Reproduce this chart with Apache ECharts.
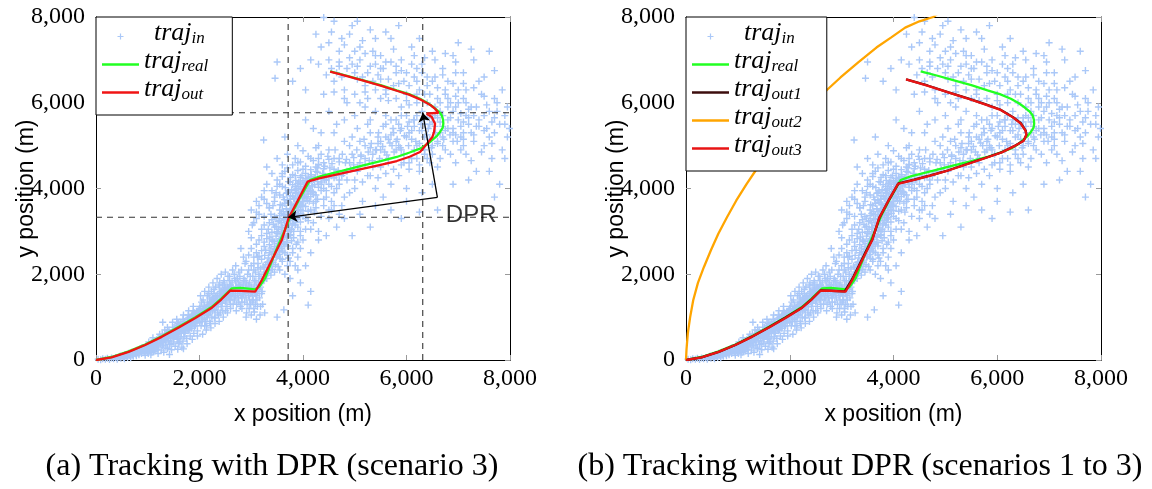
<!DOCTYPE html>
<html>
<head>
<meta charset="utf-8">
<script src="https://cdn.jsdelivr.net/npm/echarts@6/dist/echarts.min.js"></script>
<style>
  html, body { margin: 0; padding: 0; background: #fff; }
  #chart { width: 1152px; height: 489px; }
</style>
</head>
<body>
<div id="chart"></div>
<script>
// Axis range shared by both panels (metres)
const AXIS_MIN = 0;
const AXIS_MAX = 8000;
const AXIS_STEP = 2000;

const xName = 'x position (m)';
const yName = 'y position (m)';
const captions = ['(a) Tracking with DPR (scenario 3)', '(b) Tracking without DPR (scenarios 1 to 3)'];

// Noisy input positions, flat list of x,y pairs (m)
const trajInFlat = [
  // near the start
  40,20, 90,5, 130,30, 180,15, 220,40, 260,10, 300,45, 340,30, 380,60, 410,20, 450,70, 480,40, 520,90, 550,30,
  580,110, 610,60, 640,120, 670,50, 700,140, 720,90, 750,160, 780,100, 800,200, 830,120, 860,210, 880,150,
  900,250, 930,170, 950,110, 970,260, 990,200, 1010,150, 1030,290, 1050,230, 1080,180, 1100,320, 1120,260,
  1140,210, 1160,350,
  420,50, 470,95, 530,60, 560,130, 600,90, 630,160, 660,100, 690,180, 710,120, 740,200, 770,140, 790,230,
  820,170, 850,260, 870,190, 890,290, 920,220, 940,300, 960,240, 980,330, 1000,270, 1020,350, 1040,260,
  1070,400, 1090,290, 1110,430, 1130,310, 1150,380, 1170,470, 1190,400, 1210,300, 1230,520, 1270,440,
  // rising band up to 2000 m
  1020,420, 1060,120, 1090,360, 1110,200, 1150,450, 1180,250, 1200,150, 1220,400, 1250,520, 1260,230, 1290,330,
  1310,180, 1330,560, 1350,420, 1380,270, 1400,620, 1420,360, 1440,500, 1460,240, 1480,700, 1500,420, 1510,560,
  1530,320, 1550,760, 1570,480, 1590,620, 1600,380, 1620,820, 1640,540, 1660,700, 1680,440, 1700,900, 1710,620,
  1730,760, 1750,500, 1770,950, 1780,680, 1800,830, 1820,560, 1840,1020, 1850,740, 1870,900, 1890,620, 1900,1100,
  1920,800, 1940,960, 1960,680, 1980,1150, 2000,870, 1300,400, 1400,450, 1450,380, 1550,560, 1600,500, 1650,620,
  1700,540, 1750,780, 1800,700, 1850,820, 1900,780, 1950,900, 1150,300, 1250,380, 1350,300, 1500,650, 1620,420,
  1720,700, 1820,900, 1920,1000, 1480,880, 1380,760, 1560,950, 1690,1050, 1790,1150, 1880,1250, 1230,600,
  1330,700, 1100,520, 1660,300, 1760,380, 1860,480, 1960,560, 1580,250, 1420,130, 1290,880, 1690,260,
  1050,300, 1120,380, 1180,330, 1240,470, 1320,480, 1370,560, 1430,590, 1470,520, 1530,640, 1580,700, 1630,740,
  1670,820, 1720,840, 1780,900, 1830,950, 1870,1000, 1930,1060, 1980,1080, 1000,330, 1200,520, 1400,650,
  1600,850, 1800,1000, 1100,240, 1300,350, 1500,500, 1700,650, 1900,850,
  1280,600, 1300,500, 1340,460, 1360,620, 1390,520, 1410,700, 1430,560, 1460,640, 1490,560, 1510,760, 1540,600,
  1560,700, 1590,800, 1610,660, 1640,860, 1660,760, 1690,700, 1710,900, 1740,820, 1760,730, 1790,980, 1810,880,
  1840,800, 1860,1060, 1890,940, 1910,870, 1940,1120, 1960,1000, 1990,930,
  1520,600, 1570,540, 1620,680, 1680,760, 1720,620, 1770,860, 1820,780, 1860,920, 1910,980, 1950,1040, 1880,1150,
  1780,1050, 1680,950, 1580,850, 1480,760, 1380,650,
  // band from 2000 m to the first bend
  2010,1250, 2030,800, 2050,1100, 2070,1400, 2090,950, 2110,1200, 2130,700, 2150,1500, 2170,1050, 2190,1300,
  2210,850, 2230,1600, 2250,1150, 2270,1400, 2290,980, 2310,1700, 2330,1250, 2350,1500, 2370,1050, 2390,1800,
  2410,1350, 2430,1600, 2450,1150, 2470,1850, 2490,1450, 2510,1700, 2530,1250, 2550,1950, 2570,1550, 2590,1750,
  2600,1300, 2040,1350, 2080,1150, 2120,900, 2160,1250, 2200,1450, 2240,1000, 2280,1250, 2320,1500, 2360,1300,
  2400,1600, 2440,1400, 2480,1650, 2520,1450, 2560,1650, 2060,600, 2140,800, 2220,750, 2300,850, 2380,900,
  2460,1000, 2540,1100, 2100,1600, 2180,1700, 2260,1800, 2340,1900, 2420,2000, 2500,2050, 2020,1500, 2350,1100,
  2450,1750, 2250,1300, 2150,1000, 2050,900, 2580,1850, 2280,1550, 2200,1150, 2420,1250, 2520,1550, 2380,1700,
  2030,1120, 2090,1180, 2130,1230, 2190,1280, 2230,1330, 2290,1380, 2330,1410, 2390,1470, 2430,1520, 2490,1560,
  2530,1600, 2580,1640, 2000,1200, 2200,1350, 2400,1500, 2550,1600, 2100,1050, 2300,1150, 2500,1350,
  2010,1180, 2040,1050, 2060,980, 2090,1280, 2110,1110, 2140,1050, 2160,1350, 2190,1180, 2210,1100, 2240,1420,
  2260,1250, 2290,1180, 2310,1480, 2340,1330, 2360,1240, 2390,1560, 2410,1400, 2440,1320, 2460,1620, 2490,1500,
  2510,1380, 2540,1700, 2560,1480, 2590,1420,
  2000,1020, 2050,1160, 2100,1250, 2150,1150, 2200,1300, 2250,1450, 2300,1350, 2350,1420, 2400,1550, 2450,1480,
  2500,1600, 2550,1520, 2180,1550, 2280,1650, 2380,1750, 2480,1800, 2580,1950, 2100,800, 2200,900, 2300,1000,
  2400,1100, 2500,1150, 2600,1200,
  // flat stretch
  2610,1500, 2630,1800, 2650,1300, 2670,2000, 2690,1600, 2710,1150, 2730,1900, 2750,1450, 2770,1750, 2790,1250,
  2810,2100, 2830,1550, 2850,1850, 2870,1350, 2890,1700, 2910,1100, 2930,2000, 2950,1500, 2970,1800, 2990,1300,
  3010,1650, 3030,1950, 3050,1200, 3070,1550, 3090,1850, 3110,1400, 3130,2150, 3150,1650, 3170,1050, 3190,1900,
  2620,1700, 2680,1400, 2740,1650, 2800,1500, 2860,1600, 2920,1650, 2980,1550, 3040,1400, 3100,1700, 3160,1450,
  2660,1650, 2720,1700, 2780,1600, 2840,1750, 2900,1450, 2960,1700, 3020,1500, 3080,1300, 3140,1800, 3200,1550,
  2640,2100, 2700,2200, 2760,2050, 2880,2250, 3000,2200, 3120,2400, 2900,1000, 3000,1050, 3100,950, 3060,1120,
  2820,1200, 2960,1200, 3180,1250, 2760,1350, 2860,1900, 3060,1750, 3220,1300, 3240,1850, 3260,1100, 2700,1850,
  2600,1550, 2580,1400,
  2610,1650, 2640,1550, 2670,1450, 2700,1700, 2730,1550, 2760,1800, 2790,1650, 2820,1450, 2850,1650, 2880,1550,
  2910,1800, 2940,1600, 2970,1400, 3000,1700, 3030,1600, 3060,1850, 3090,1500, 3120,1600, 3150,1950, 3180,1700,
  3210,1600, 3240,2000,
  2600,1750, 2650,1600, 2700,1500, 2750,1650, 2800,1750, 2850,1550, 2900,1650, 2950,1750, 3000,1600, 3050,1650,
  3100,1550, 3150,1750, 3200,1800, 2680,1900, 2780,1950, 2880,1850, 2980,1950, 3080,2050, 2720,1300, 2820,1350,
  2920,1300, 3020,1350, 3120,1250,
  // steep climb
  3300,1900, 3150,2000, 3450,2050, 3250,2150, 3550,2100, 3050,2250, 3380,2250, 3600,2300, 3200,2350, 3480,2400,
  3700,2450, 3100,2500, 3350,2500, 3550,2550, 3800,2600, 3250,2650, 3450,2650, 3650,2700, 3900,2750, 3150,2800,
  3400,2800, 3600,2850, 3750,2900, 3300,2950, 3500,2950, 3950,3000, 3700,3000, 3200,3050, 3450,3100, 3600,3100,
  3850,3150, 3050,3200, 3350,3200, 3550,3250, 3750,3250, 4050,3300, 3250,3350, 3450,3350, 3650,3400, 3900,3400,
  3100,3450, 3550,3500, 3750,3500, 4150,3500, 3350,3550, 3850,3600, 3650,3650, 3450,3700, 4000,3700, 3250,3750,
  3750,3750, 3900,3800, 3550,3850, 4250,3850, 3700,3900, 3400,3950, 3850,3950, 4050,4000, 3600,4050, 3950,4100,
  4300,4100, 3750,4150, 3500,4200, 4100,4250, 3850,4300, 4400,4300, 3650,4400, 4000,4450, 4250,4500, 3800,4550,
  3260,2050, 3340,2080, 3390,2180, 3310,2280, 3430,2330, 3500,2420, 3390,2460, 3540,2520, 3460,2580, 3580,2640,
  3510,2720, 3620,2760, 3560,2830, 3680,2880, 3600,2960, 3720,3030, 3660,3080, 3790,3150, 3700,3190, 3820,3260,
  3740,3310, 3860,3370, 3790,3430, 3910,3480, 3830,3540, 3950,3580, 3870,3640, 3990,3690, 3910,3760, 4030,3820,
  3960,3880, 4080,3930, 4000,3980, 4110,4060, 4040,4140, 4160,4190,
  2900,2300, 3000,2600, 2950,3000, 3100,3300, 3000,3500, 3200,3800, 3300,4100, 4300,2800, 4200,3200, 4400,3600,
  4500,3300, 4600,3900, 4700,3400, 4150,2500, 4050,2200, 3900,2100, 3750,1900, 3650,2000, 4400,4000, 4550,3700,
  3300,4500, 3500,4700, 3700,4800, 2800,2600, 3000,2850, 3150,3600, 4300,3000, 4450,2900, 3850,2200, 3700,2200,
  3630,1170, 4100,1280, 3500,1000, 3800,1500, 3950,1800, 4150,1600,
  3380,1980, 3180,2120, 3520,2180, 3280,2230, 3420,2280, 3600,2350, 3330,2380, 3150,2420, 3540,2460, 3650,2500,
  3420,2530, 3280,2560, 3590,2600, 3500,2640, 3700,2660, 3350,2690, 3620,2720, 3450,2760, 3780,2780, 3540,2800,
  3300,2830, 3680,2860, 3480,2890, 3760,2920, 3580,2940, 3400,2980, 3820,3000, 3640,3020, 3530,3050, 3740,3080,
  3900,3100, 3480,3120, 3650,3140, 3800,3180, 3580,3200, 3950,3220, 3700,3240, 3400,3270, 3880,3290, 3620,3300,
  3780,3330, 4000,3350, 3550,3370, 3700,3390, 3960,3420, 3840,3440, 3620,3460, 4100,3470, 3760,3490, 3950,3510,
  3680,3530, 3880,3560, 4050,3580, 3600,3600, 3780,3620, 3960,3640, 4200,3660, 3720,3680, 3880,3700, 4080,3720,
  3640,3740, 3820,3770, 4000,3790, 4150,3810, 3760,3830, 3940,3850, 4100,3870, 3680,3890, 3860,3910, 4180,3930,
  4020,3950, 3780,3970, 3920,3990, 4120,4010, 4300,4030, 3850,4050, 4060,4070, 4220,4090, 3900,4110, 4080,4130,
  3720,4160, 4000,4180, 4200,4210, 4350,4230, 3950,4260, 4150,4280, 3800,4320, 4050,4350, 4280,4380, 3900,4420,
  4150,4440, 4400,4460, 3700,4480, 4050,4520, 4300,4560, 3950,4620, 4200,4650, 4500,4680, 3850,4700, 4100,4750,
  4350,4800, 4000,4880, 4250,4950, 3600,4350, 3500,4050, 3450,3800, 3350,3550, 4350,3350, 4250,3550, 4400,3750,
  4150,3050, 4000,2800, 3950,2600, 3900,2400, 3750,2300, 2950,2100, 3050,2400, 3100,2700, 3200,2900, 3250,3150,
  3150,3400, 3300,3650, 4500,4100, 4600,4250, 4450,3950,
  3320,2020, 3410,2110, 3230,2190, 3470,2220, 3360,2310, 3560,2370, 3260,2440, 3440,2480, 3610,2540, 3380,2610,
  3530,2680, 3700,2740, 3420,2770, 3590,2810, 3820,2850, 3360,2870, 3630,2910, 3500,2990, 3780,3040, 3580,3090,
  3430,3160, 3690,3170, 3860,3210, 3520,3230, 3650,3280, 3900,3320, 3480,3310, 3710,3360, 3820,3400, 3580,3420,
  3760,3460, 4000,3480, 3680,3520, 3820,3570, 3980,3610, 3560,3620, 3760,3660, 3900,3680, 4120,3700, 3700,3720,
  3840,3760, 4060,3780, 3620,3800, 3800,3820, 3980,3840, 4200,3860, 3860,3880, 3720,3940, 4000,3920, 4140,3960,
  3880,4000, 3660,4020, 3960,4040, 4180,4060, 3800,4090, 4030,4100, 3920,4150, 4120,4170, 4280,4160, 3860,4190,
  4060,4230, 4240,4260, 3980,4300, 4160,4320, 3760,4260, 3600,4280, 4420,4200, 4350,3950, 4280,3750, 4220,3450,
  4100,3250, 4050,3050, 3950,2900, 3870,2700, 3800,2500, 3720,2380, 3200,2550, 3250,2750, 3330,3050, 3380,3400,
  3420,3600, 3480,3900, 3550,4100, 2950,2450, 3050,2100, 3130,2250, 2850,2400, 3020,3150, 3100,3700, 3250,3950,
  3400,4350, 3600,4550, 3900,4600, 4300,4700, 4600,4450, 4700,4200, 4550,3500, 4600,3600, 4650,3100, 4800,3800,
  // widening band after the second bend
  4150,4700, 4200,3900, 4250,4400, 4300,5000, 4350,4100, 4400,4600, 4450,3800, 4500,4900, 4550,4300, 4600,5300,
  4650,4000, 4700,4700, 4750,3600, 4800,5100, 4850,4400, 4900,3900, 4950,4800, 5000,4200, 5050,5400, 5100,4600,
  5150,3700, 5200,5000, 5250,4300, 5300,5600, 5350,4800, 5400,4000, 5450,5200, 5500,4500, 5550,3800, 5600,5500,
  5650,4700, 5700,4100, 5750,5300, 5800,4900, 5850,4300, 5900,5700, 5950,4600, 6000,4000,
  4220,4250, 4380,4350, 4520,4480, 4680,4420, 4820,4600, 4980,4550, 5120,4750, 5280,4650, 5420,4900, 5580,4850,
  5720,5000, 5880,4950, 4300,4550, 4600,4700, 4900,4600, 5200,4700, 5500,4900, 5800,5100, 4450,4200, 4750,4300,
  5050,4400, 5350,4500, 5650,4600, 5950,4800, 4250,3700, 4500,3500, 4800,3300, 5100,3400, 5400,3600, 5700,3500,
  6000,3700, 4950,2900, 5300,3100, 6250,3450, 6600,3500, 5900,3300, 4350,5300, 4650,5500, 4950,5200, 5250,5500,
  4500,5800, 4200,5400, 3900,5000, 3650,5200, 4050,5600,
  4280,4480, 4420,4520, 4560,4580, 4700,4620, 4840,4680, 4980,4720, 5120,4780, 5260,4850, 5400,4900, 5540,4980,
  5680,5060, 5820,5150, 5960,5230, 4360,4150, 4500,4250, 4640,4300, 4780,4350, 4920,4450, 5060,4500, 5200,4550,
  5340,4650, 5480,4700, 5620,4780, 5760,4850, 5900,4900, 6040,5000, 6180,5100, 4480,4750, 4620,4900, 4760,4800,
  4900,5000, 5040,4900, 5180,5150, 5320,5050, 5460,5300, 5600,5200, 5740,5400, 5880,5350, 6020,5450, 4550,4050,
  4700,4100, 4850,4200, 5000,4000, 5150,4150, 5300,4300, 5450,4250, 5600,4350, 5750,4450, 5900,4550, 6050,4600,
  5100,5100, 5300,4950, 5500,5100, 5700,5250, 5900,5400, 5850,5000, 5650,5150, 5450,5050,
  // turning region
  6050,5300, 6100,4700, 6150,5600, 6200,5000, 6250,4400, 6300,5800, 6350,5200, 6400,4700, 6450,5500, 6500,5000,
  6550,5900, 6600,4500, 6650,5300, 6700,5700, 6750,4900, 6800,5400, 6850,6000, 6900,5100, 6950,4600, 7000,5600,
  7050,5200, 7100,6100, 7150,4800, 7200,5500, 7250,5900, 7300,5100, 7350,4400, 7400,5600, 7450,6200, 7500,5000,
  7550,5400, 7600,5800, 7650,4700, 7700,5300, 7750,6000, 7800,5500, 7850,4900, 7900,5700, 7950,5200, 7990,5400,
  6100,5150, 6250,5350, 6400,5250, 6550,5450, 6700,5200, 6850,5650, 6200,5700, 6350,5500, 6500,5650, 6650,5550,
  6150,5450, 6300,5350, 6450,5150, 6600,5100, 6750,5350, 6900,5400, 7050,5450, 6050,5550, 6350,4900, 6500,4800,
  6700,5000, 7100,5300, 6950,5900, 6800,6100, 7300,5700, 7600,5200, 6000,5200, 6250,5050, 6150,4900, 6400,6000,
  6200,6200, 7150,6300, 7400,6500, 7200,4200, 6900,4100, 7800,4100, 7700,3800, 6500,4100, 6300,3900,
  6200,4700, 6350,4800, 6480,4950, 6600,5050, 6720,5150, 6840,5250, 6980,5100, 7100,5000, 7250,5300, 6560,5300,
  6420,5400, 6280,5500, 6140,5600, 6000,5700, 6900,5800, 7050,5750, 7200,5650, 7350,5450, 7500,5700, 7650,5550,
  7100,5550, 6650,5800, 6550,5700, 6400,5650, 5850,5500, 5700,5600, 5550,5450, 7900,4700, 7600,4400,
  6100,5350, 6300,5600, 6500,5550, 6700,5450, 6900,5300, 7100,5150, 7300,5250, 7500,5350, 7700,5650, 7900,5500,
  6850,4800, 7050,4900, 7250,4650, 7450,4850, 7650,5050, 6650,4700, 6450,4600, 6250,4550, 6050,4450, 7400,5450,
  7200,5850, 7000,6000, 6800,5600, 6600,5650, 6950,5250, 7150,5700,
  // upper branch
  4500,7400, 4700,7200, 4900,7600, 5100,7300, 5300,7700, 5500,7100, 5700,7500, 5900,7000, 6100,7300, 6300,6900,
  6500,7200, 6700,6800, 6900,7100, 7100,6700, 7300,7000, 7500,6600, 7600,7200, 4600,6500, 4800,6300, 5000,6700,
  5200,6400, 5400,6900, 5600,6300, 5800,6700, 6000,6200, 6200,6800, 6400,6400, 6600,6100, 6800,6500, 7000,6300,
  4300,6900, 4400,6200, 4550,6800, 4750,6600, 4950,6900, 5150,6600, 5350,6500, 5550,6800, 5750,6400, 5950,6500,
  6150,6600, 6350,6200, 6550,6600, 6750,6300, 6950,6700, 4050,6300, 4150,7000, 3950,6800, 3800,6500, 4250,7600,
  4600,7900, 4400,7990, 5050,7900, 5400,7500, 5850,7800, 6250,7500, 4850,6000, 5250,6100, 5650,6050, 6050,5950,
  3500,6950, 3460,6570, 3240,5130, 4700,6950, 5050,6850, 5500,6550, 5000,5700, 5200,5900, 5400,5800, 5600,5700,
  5800,5600, 5100,6000, 5500,6100, 5900,5900, 4800,5600, 5300,5300,
  4450,6650, 4650,6700, 4850,6800, 5050,6550, 5250,6700, 5450,6650, 5650,6550, 5850,6450, 6050,6400, 6250,6300,
  6450,6200, 6650,6000, 6800,5900, 4500,7000, 4700,6850, 4900,7050, 5100,7000, 5300,6850, 5500,6800, 5700,6950,
  5900,6750, 6100,6900, 6300,6700, 6500,6500, 6700,6650, 6900,6450, 7100,6450, 7300,6350, 7500,6150, 7700,6100,
  4600,6250, 4800,6100, 5000,6200, 5200,6250, 5400,6300, 5600,6200, 5800,6100, 6000,6050, 6200,6000, 5350,7200,
  5750,7250, 6150,7100, 6550,7000, 6950,6950, 4350,7300, 4550,7650, 7250,7250, 7700,6750, 7850,6300, 7950,5900,
  6750,6200, 6950,6150, 7150,6000, 7350,5900, 7550,5950, 7750,5800, 6600,6350, 6400,6600, 6200,6500, 6000,6700,
  5800,6850, 5600,6950, 5400,7100, 5200,7150, 5000,7200, 4800,7350, 6350,7050, 6750,7150, 7000,7400, 5600,7650,
  5150,7450, 4950,7800, 4750,7500
];

// True trajectory (m)
const trajReal = [
  [0,0],[300,70],[630,200],[950,360],[1270,555],[1600,775],[1920,1000],[2240,1240],[2420,1430],[2625,1671],
  [2800,1680],[3076,1648],[3150,1700],[3269,1905],[3460,2500],[3620,2950],[3770,3380],[3950,3800],[4138,4198],
  [4331,4284],[4750,4410],[5167,4541],[5500,4640],[5812,4735],[6060,4840],[6262,4929],[6400,5030],[6488,5124],
  [6590,5230],[6648,5318],[6700,5420],[6712,5512],[6705,5610],[6681,5707],[6620,5800],[6519,5900],[6400,6000],
  [6262,6094],[6050,6200],[5812,6290],[5500,6410],[5167,6523],[4850,6630],[4524,6733]
];

// Tracker output with DPR (m)
const trajOut = [
  [0,0],[300,60],[630,190],[950,350],[1270,540],[1600,760],[1920,980],[2240,1220],[2420,1410],[2593,1617],
  [2800,1610],[3076,1593],[3205,1866],[3462,2488],[3591,2799],[3720,3304],[3900,3720],[4087,4159],[4331,4240],
  [4750,4350],[5167,4463],[5500,4550],[5812,4641],[6060,4740],[6262,4851],[6423,5085],[6500,5200],[6533,5318],
  [6552,5512],[6488,5667],[6391,5744],[6616,5767],[6560,5850],[6460,5950],[6262,6080],[6050,6190],[5812,6280],
  [5500,6400],[5167,6515],[4850,6620],[4524,6725]
];

// Tracker outputs without DPR, scenarios 1 to 3 (m)
const trajOut1 = [
  [0,0],[300,60],[630,190],[950,350],[1270,545],[1600,765],[1920,990],[2240,1225],[2420,1415],[2593,1622],
  [2800,1615],[3060,1600],[3200,1880],[3455,2500],[3590,2810],[3730,3320],[3910,3730],[4095,4120],[4400,4205],
  [4710,4305],[5056,4425],[5403,4565],[5749,4705],[6095,4850],[6350,5005],[6512,5122],[6562,5255],[6548,5352],
  [6455,5522],[6306,5662],[6055,5843],[5752,5972],[5403,6113],[5060,6243],[4655,6403],[4245,6547]
];
const trajOut2 = [
  [0,0],[10,250],[35,620],[80,1000],[139,1395],[230,1800],[346,2170],[480,2560],[623,2946],[790,3330],
  [970,3721],[1170,4110],[1385,4496],[1620,4880],[1870,5271],[2140,5620],[2424,5969],[2700,6280],[2978,6589],
  [3320,6940],[3671,7287],[3950,7520],[4225,7752],[4500,7900],[4765,8000],[5000,8200]
];
const trajOut3 = [
  [0,0],[300,60],[630,190],[950,350],[1270,540],[1600,760],[1920,980],[2240,1220],[2420,1410],[2593,1617],
  [2800,1610],[3076,1593],[3205,1866],[3462,2488],[3591,2799],[3720,3304],[3900,3710],[4087,4109],[4400,4200],
  [4710,4300],[5056,4420],[5403,4560],[5749,4700],[6095,4845],[6350,5000],[6510,5116],[6560,5250],[6545,5349],
  [6450,5520],[6303,5659],[6050,5840],[5749,5969],[5400,6110],[5056,6240],[4650,6400],[4239,6543]
];

// DPR markers: reset positions and the label anchor (m)
const dprX = [3713, 6314];
const dprY = [3328, 5767];
const dprCorner = [6597, 3794];
const dprLabelAt = [7250, 3380];

const colors = {
  in: '#aac8f8', real: '#22ff22', out: '#f01414', out1: '#3c0d0d', out2: '#ffa500', out3: '#e81414'
};

const trajIn = [];
for (let i = 0; i < trajInFlat.length; i += 2) trajIn.push([trajInFlat[i], trajInFlat[i + 1]]);

const SERIF = 'Liberation Serif';
const SANS = 'Liberation Sans';
const plusPath = 'path://M2,0H3V2H5V3H3V5H2V3H0V2H2Z';
const legendLineIcon = 'path://M0,0H37V2.4H0Z';
const fmt = v => v.toLocaleString('en-US');

function axisBase(g) {
  return {
    gridIndex: g, type: 'value', min: AXIS_MIN, max: AXIS_MAX, interval: AXIS_STEP,
    splitLine: { show: false },
    axisLine: { show: true, onZero: false, lineStyle: { color: '#000', width: 1 } },
    axisTick: { show: true, inside: true, length: 5, lineStyle: { color: '#9a9a9a' } }
  };
}
function xAxes(g) {
  return [
    Object.assign(axisBase(g), {
      position: 'bottom', name: xName, nameLocation: 'middle', nameGap: 43, nameMoveOverlap: false,
      nameTextStyle: { fontFamily: SANS, fontSize: 23, color: '#000' },
      axisLabel: { formatter: fmt, margin: 7, fontFamily: SERIF, fontSize: 24, color: '#000' }
    }),
    Object.assign(axisBase(g), { position: 'top', axisLabel: { show: false } })
  ];
}
function yAxes(g) {
  return [
    Object.assign(axisBase(g), {
      position: 'left', name: yName, nameLocation: 'middle', nameGap: 58, nameRotate: 90, nameMoveOverlap: false,
      nameTextStyle: { fontFamily: SANS, fontSize: 23, color: '#000' },
      axisLabel: { formatter: fmt, margin: 11, fontFamily: SERIF, fontSize: 24, color: '#000' }
    }),
    Object.assign(axisBase(g), { position: 'right', axisLabel: { show: false } })
  ];
}

function lineSeries(name, data, color, xi, yi, z) {
  return {
    name, type: 'line', data, xAxisIndex: xi, yAxisIndex: yi, symbol: 'none',
    lineStyle: { color, width: 2.3 }, itemStyle: { color }, z, silent: true, animation: false
  };
}
function scatterSeries(xi, yi) {
  return {
    name: 'traj_in', type: 'scatter', data: trajIn, xAxisIndex: xi, yAxisIndex: yi,
    symbol: plusPath, symbolSize: 7, itemStyle: { color: colors.in, opacity: 1 }, z: 1,
    silent: true, animation: false, large: false
  };
}
function dashed(points) {
  return {
    type: 'line', data: points, xAxisIndex: 0, yAxisIndex: 0, symbol: 'none', z: 2,
    lineStyle: { color: '#333', width: 1.1, type: [6, 5] }, silent: true, animation: false
  };
}

// Math-style legend labels: italic body with a lowered subscript
const legendRich = {
  m: { fontFamily: SERIF, fontStyle: 'italic', fontSize: 26, lineHeight: 21, padding: [0, 0, 7, 0], color: '#000' },
  mi: { fontFamily: SERIF, fontStyle: 'italic', fontSize: 26, lineHeight: 21, padding: [0, 0, 7, 10], color: '#000' },
  s: { fontFamily: SERIF, fontStyle: 'italic', fontSize: 17, lineHeight: 17, verticalAlign: 'bottom', color: '#000' }
};
function legendFmt(name) {
  const parts = name.split('_');
  return '{' + (parts[1] === 'in' ? 'mi' : 'm') + '|' + parts[0] + '}{s|' + parts[1] + '}';
}
function legend(left, names, rightPad) {
  return {
    data: names.map(n => n === 'traj_in' ? { name: n } : { name: n, icon: legendLineIcon }),
    orient: 'vertical', left, top: 17, itemGap: -5, itemWidth: 37, itemHeight: 6,
    padding: [3, rightPad, 6, 6], borderColor: '#000', borderWidth: 1, backgroundColor: '#fff',
    formatter: legendFmt, textStyle: { rich: legendRich }, selectedMode: false, z: 10
  };
}

const chart = echarts.init(document.getElementById('chart'), null, { renderer: 'canvas' });
chart.setOption({
  animation: false,
  backgroundColor: '#fff',
  grid: [
    { left: 96, top: 17, width: 414, height: 343 },
    { left: 686, top: 17, width: 415, height: 343 }
  ],
  xAxis: [...xAxes(0), ...xAxes(1)],
  yAxis: [...yAxes(0), ...yAxes(1)],
  legend: [
    legend(96, ['traj_in', 'traj_real', 'traj_out'], 24),
    legend(686, ['traj_in', 'traj_real', 'traj_out1', 'traj_out2', 'traj_out3'], 25)
  ],
  series: [
    // panel (a)
    scatterSeries(0, 0),
    dashed([[dprX[0], AXIS_MIN], [dprX[0], AXIS_MAX]]),
    dashed([[dprX[1], AXIS_MIN], [dprX[1], AXIS_MAX]]),
    dashed([[AXIS_MIN, dprY[0]], [AXIS_MAX, dprY[0]]]),
    dashed([[AXIS_MIN, dprY[1]], [AXIS_MAX, dprY[1]]]),
    lineSeries('traj_real', trajReal, colors.real, 0, 0, 3),
    lineSeries('traj_out', trajOut, colors.out, 0, 0, 4),
    {
      type: 'lines', coordinateSystem: 'cartesian2d', xAxisIndex: 0, yAxisIndex: 0,
      symbol: ['none', 'arrow'], symbolSize: 9, z: 5, silent: true, animation: false,
      lineStyle: { color: '#000', width: 1.3, opacity: 1, curveness: 0 },
      data: [
        { coords: [dprCorner, [dprX[0], dprY[0]]] },
        { coords: [dprCorner, [dprX[1], dprY[1]]] }
      ]
    },
    {
      type: 'scatter', xAxisIndex: 0, yAxisIndex: 0, data: [dprLabelAt], symbolSize: 0, z: 6,
      silent: true, animation: false,
      label: { show: true, position: 'inside', formatter: 'DPR', fontFamily: SANS, fontSize: 24, color: '#000' }
    },
    // panel (b)
    scatterSeries(2, 2),
    lineSeries('traj_real', trajReal, colors.real, 2, 2, 3),
    lineSeries('traj_out1', trajOut1, colors.out1, 2, 2, 3),
    lineSeries('traj_out2', trajOut2, colors.out2, 2, 2, 3),
    lineSeries('traj_out3', trajOut3, colors.out3, 2, 2, 4)
  ],
  graphic: [
    { type: 'text', x: 272, y: 467, style: { text: captions[0], align: 'center', verticalAlign: 'middle', fontFamily: SERIF, fontSize: 32, fill: '#000' } },
    { type: 'text', x: 860, y: 467, style: { text: captions[1], align: 'center', verticalAlign: 'middle', fontFamily: SERIF, fontSize: 32, fill: '#000' } }
  ]
});
</script>
</body>
</html>
